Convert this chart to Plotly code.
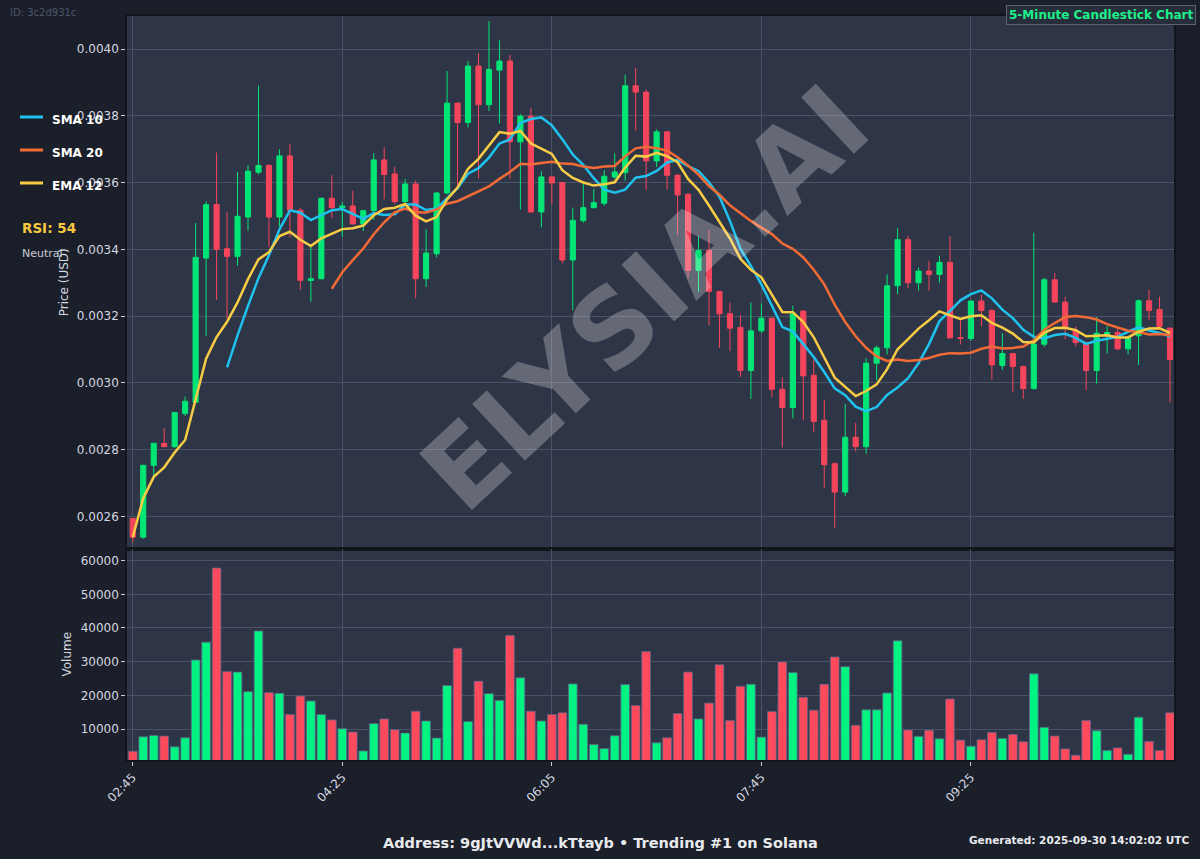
import pandas as pd
import plotly.graph_objects as go
from plotly.subplots import make_subplots

DATE = "2025-09-30"
TIMES = [
    "02:45", "02:50", "02:55", "03:00", "03:05", "03:10", "03:15", "03:20", "03:25", "03:30",
    "03:35", "03:40", "03:45", "03:50", "03:55", "04:00", "04:05", "04:10", "04:15", "04:20",
    "04:25", "04:30", "04:35", "04:40", "04:45", "04:50", "04:55", "05:00", "05:05", "05:10",
    "05:15", "05:20", "05:25", "05:30", "05:35", "05:40", "05:45", "05:50", "05:55", "06:00",
    "06:05", "06:10", "06:15", "06:20", "06:25", "06:30", "06:35", "06:40", "06:45", "06:50",
    "06:55", "07:00", "07:05", "07:10", "07:15", "07:20", "07:25", "07:30", "07:35", "07:40",
    "07:45", "07:50", "07:55", "08:00", "08:05", "08:10", "08:15", "08:20", "08:25", "08:30",
    "08:35", "08:40", "08:45", "08:50", "08:55", "09:00", "09:05", "09:10", "09:15", "09:20",
    "09:25", "09:30", "09:35", "09:40", "09:45", "09:50", "09:55", "10:00", "10:05", "10:10",
    "10:15", "10:20", "10:25", "10:30", "10:35", "10:40", "10:45", "10:50", "10:55", "11:00",
]
OPEN = [
    0.002594, 0.002538, 0.002753, 0.002819, 0.002809, 0.002908, 0.002942, 0.003374, 0.003534, 0.003402,
    0.003379, 0.003497, 0.003631, 0.003651, 0.003497, 0.003680, 0.003517, 0.003307, 0.003312, 0.003553,
    0.003525, 0.003530, 0.003476, 0.003516, 0.003668, 0.003626, 0.003543, 0.003596, 0.003312, 0.003387,
    0.003569, 0.003838, 0.003780, 0.003949, 0.003833, 0.003937, 0.003964, 0.003722, 0.003799, 0.003512,
    0.003617, 0.003600, 0.003368, 0.003486, 0.003525, 0.003538, 0.003617, 0.003630, 0.003890, 0.003871,
    0.003665, 0.003752, 0.003622, 0.003565, 0.003337, 0.003397, 0.003274, 0.003207, 0.003166, 0.003037,
    0.003156, 0.003194, 0.002981, 0.002926, 0.003215, 0.003023, 0.002888, 0.002758, 0.002673, 0.002837,
    0.002809, 0.003059, 0.003105, 0.003291, 0.003429, 0.003300, 0.003335, 0.003325, 0.003361, 0.003136,
    0.003133, 0.003245, 0.003217, 0.003052, 0.003088, 0.003049, 0.002983, 0.003116, 0.003309, 0.003242,
    0.003156, 0.003121, 0.003037, 0.003146, 0.003151, 0.003102, 0.003141, 0.003246, 0.003220, 0.003164,
]
HIGH = [
    0.002594, 0.002755, 0.002819, 0.002865, 0.002911, 0.002959, 0.003479, 0.003544, 0.003690, 0.003511,
    0.003632, 0.003652, 0.003891, 0.003655, 0.003700, 0.003716, 0.003525, 0.003407, 0.003555, 0.003622,
    0.003542, 0.003576, 0.003518, 0.003688, 0.003706, 0.003647, 0.003611, 0.003606, 0.003460, 0.003572,
    0.003934, 0.003840, 0.003964, 0.003988, 0.004084, 0.004026, 0.003982, 0.003805, 0.003824, 0.003634,
    0.003620, 0.003602, 0.003525, 0.003596, 0.003581, 0.003637, 0.003688, 0.003923, 0.003944, 0.003879,
    0.003760, 0.003755, 0.003625, 0.003568, 0.003440, 0.003458, 0.003276, 0.003241, 0.003203, 0.003241,
    0.003238, 0.003196, 0.003016, 0.003231, 0.003218, 0.003070, 0.002949, 0.002762, 0.002937, 0.002880,
    0.003075, 0.003112, 0.003325, 0.003463, 0.003440, 0.003346, 0.003366, 0.003381, 0.003440, 0.003189,
    0.003247, 0.003264, 0.003220, 0.003149, 0.003090, 0.003052, 0.003450, 0.003315, 0.003329, 0.003258,
    0.003169, 0.003123, 0.003197, 0.003170, 0.003163, 0.003140, 0.003250, 0.003279, 0.003258, 0.003166,
]
LOW = [
    0.002522, 0.002533, 0.002712, 0.002808, 0.002805, 0.002901, 0.002940, 0.003141, 0.003248, 0.003192,
    0.003351, 0.003456, 0.003624, 0.003407, 0.003468, 0.003436, 0.003279, 0.003243, 0.003310, 0.003494,
    0.003438, 0.003476, 0.003455, 0.003489, 0.003550, 0.003535, 0.003540, 0.003254, 0.003287, 0.003376,
    0.003565, 0.003591, 0.003765, 0.003613, 0.003814, 0.003777, 0.003611, 0.003519, 0.003510, 0.003466,
    0.003535, 0.003358, 0.003218, 0.003480, 0.003522, 0.003530, 0.003610, 0.003606, 0.003755, 0.003578,
    0.003647, 0.003579, 0.003443, 0.003313, 0.003272, 0.003172, 0.003105, 0.003095, 0.003018, 0.002952,
    0.003150, 0.002957, 0.002807, 0.002894, 0.002888, 0.002853, 0.002686, 0.002566, 0.002661, 0.002795,
    0.002788, 0.003008, 0.003085, 0.003266, 0.003284, 0.003276, 0.003276, 0.003300, 0.003133, 0.003116,
    0.003126, 0.003170, 0.003010, 0.003039, 0.002974, 0.002952, 0.002980, 0.003108, 0.003240, 0.003131,
    0.003110, 0.002978, 0.002998, 0.003088, 0.003098, 0.003085, 0.003054, 0.003189, 0.003166, 0.002942,
]
CLOSE = [
    0.002538, 0.002753, 0.002819, 0.002809, 0.002911, 0.002945, 0.003376, 0.003534, 0.003400, 0.003379,
    0.003499, 0.003634, 0.003651, 0.003497, 0.003680, 0.003517, 0.003307, 0.003312, 0.003553, 0.003525,
    0.003530, 0.003476, 0.003516, 0.003668, 0.003624, 0.003543, 0.003596, 0.003312, 0.003389, 0.003569,
    0.003838, 0.003780, 0.003949, 0.003833, 0.003939, 0.003964, 0.003722, 0.003799, 0.003512, 0.003617,
    0.003599, 0.003368, 0.003487, 0.003525, 0.003540, 0.003619, 0.003632, 0.003890, 0.003871, 0.003665,
    0.003752, 0.003622, 0.003563, 0.003337, 0.003397, 0.003274, 0.003207, 0.003164, 0.003037, 0.003156,
    0.003194, 0.002981, 0.002926, 0.003207, 0.003021, 0.002885, 0.002755, 0.002673, 0.002837, 0.002809,
    0.003059, 0.003105, 0.003291, 0.003429, 0.003300, 0.003335, 0.003325, 0.003361, 0.003135, 0.003133,
    0.003245, 0.003217, 0.003054, 0.003088, 0.003049, 0.002983, 0.003116, 0.003309, 0.003242, 0.003169,
    0.003121, 0.003037, 0.003149, 0.003151, 0.003102, 0.003136, 0.003246, 0.003217, 0.003169, 0.003070,
]
VOLUME = [
    3400, 7700, 8100, 7900, 4700, 7400, 30500, 35800, 57800, 27100,
    26900, 21100, 39100, 20800, 20600, 14300, 19800, 18300, 14300, 12700,
    10100, 9100, 3500, 11600, 13000, 9800, 8800, 15300, 12400, 7300,
    22900, 34000, 12200, 24200, 20500, 18500, 37800, 25200, 15300, 12400,
    14300, 14800, 23400, 11400, 5400, 4200, 8000, 23200, 17000, 33000,
    5900, 7400, 14600, 26900, 13000, 17700, 29100, 12500, 22700, 23300,
    7600, 15200, 29900, 26800, 19400, 15600, 23300, 31400, 28500, 11100,
    15700, 15700, 20700, 36200, 9700, 7800, 9600, 7100, 18900, 6700,
    4900, 6800, 9000, 7200, 8400, 6200, 26400, 10500, 7900, 4100,
    2200, 12500, 9500, 3600, 4400, 2500, 13500, 6300, 3600, 14800,
]
TICK_LABELS = ["02:45", "04:25", "06:05", "07:45", "09:25"]
PRICE_TICKS = [0.0026, 0.0028, 0.0030, 0.0032, 0.0034, 0.0036, 0.0038, 0.0040]
VOLUME_TICKS = [10000, 20000, 30000, 40000, 50000, 60000]
LEGEND_NAMES = ["SMA 10", "SMA 20", "EMA 12"]
RSI_TEXT = "RSI: 54"
RSI_STATE = "Neutral"

# colours
PAPER = "#1b1f2a"
PLOT_BG = "#2e3546"
GRID = "#4a5266"
GREEN = "#00e676"
RED = "#f5455c"
VOL_GREEN = "#00f283"
VOL_RED = "#ff4a5e"
C_SMA10 = "#1fc2ee"
C_SMA20 = "#f26a35"
C_EMA12 = "#f8cc45"
TXT = "#d4d8e0"
FONT = "DejaVu Sans"

x = [f"{DATE} {t}" for t in TIMES]
close_s = pd.Series(CLOSE)
sma10 = close_s.rolling(10).mean()
sma20 = close_s.rolling(20).mean()
ema12 = close_s.ewm(span=12).mean()
vol_colors = [VOL_GREEN if c >= o else VOL_RED for o, c in zip(OPEN, CLOSE)]

# layout geometry (pixels)
W, H = 1200, 859
ML, MR, MT, MB = 127, 26, 16, 99
PW, PH = W - ML - MR, H - MT - MB
VOL_FRAC = 211.5 / PH


def px(xp):
    return (xp - ML) / PW


def py(yp):
    return 1 - (yp - MT) / PH


fig = make_subplots(rows=2, cols=1, shared_xaxes=True, vertical_spacing=0)

fig.add_trace(go.Candlestick(
    x=x, open=OPEN, high=HIGH, low=LOW, close=CLOSE,
    increasing=dict(line=dict(color=GREEN, width=1), fillcolor=GREEN),
    decreasing=dict(line=dict(color=RED, width=1), fillcolor=RED),
    whiskerwidth=0, showlegend=False, hoverinfo="skip",
), row=1, col=1)

for series, name, color in [(sma10, LEGEND_NAMES[0], C_SMA10),
                            (sma20, LEGEND_NAMES[1], C_SMA20),
                            (ema12, LEGEND_NAMES[2], C_EMA12)]:
    fig.add_trace(go.Scatter(x=x, y=series, mode="lines", name=name,
                             line=dict(color=color, width=2.5), showlegend=False,
                             hoverinfo="skip"), row=1, col=1)

fig.add_trace(go.Bar(x=x, y=VOLUME, marker=dict(color=vol_colors,
                                               line=dict(color="#5d6485", width=0.8)),
                     showlegend=False, hoverinfo="skip"), row=2, col=1)

xrange = [f"{DATE} 02:42:15", f"{DATE} 11:01:55"]
tickvals = [f"{DATE} {t}" for t in TICK_LABELS]
axis_common = dict(showline=True, linecolor="#12151c", linewidth=1.5, mirror=True,
                   gridcolor=GRID, gridwidth=1, zeroline=False,
                   tickfont=dict(family=FONT, size=12, color=TXT),
                   ticks="outside", ticklen=4, tickcolor="#c8ccd4")

fig.update_layout(
    width=W, height=H,
    margin=dict(l=ML, r=MR, t=MT, b=MB),
    paper_bgcolor=PAPER, plot_bgcolor=PLOT_BG,
    font=dict(family=FONT, color=TXT),
    bargap=0.17,
    xaxis=dict(domain=[0, 1], range=xrange, tickvals=tickvals, ticktext=TICK_LABELS,
               showticklabels=False, rangeslider=dict(visible=False), **axis_common),
    xaxis2=dict(domain=[0, 1], range=xrange, tickvals=tickvals, ticktext=TICK_LABELS,
                tickangle=-45, **axis_common),
    yaxis=dict(domain=[VOL_FRAC, 1], range=[0.002504, 0.004099], tickvals=PRICE_TICKS,
               tickformat=".4f",
               title=dict(text="Price (USD)", standoff=6,
                          font=dict(family=FONT, size=12, color=TXT)),
               **axis_common),
    yaxis2=dict(domain=[0, VOL_FRAC], range=[800, 63600], tickvals=VOLUME_TICKS,
                tickformat="d",
                title=dict(text="Volume", standoff=6,
                           font=dict(family=FONT, size=12, color=TXT)),
                **axis_common),
)

shapes = []
annotations = []
# manual legend
for i, (name, color) in enumerate(zip(LEGEND_NAMES, [C_SMA10, C_SMA20, C_EMA12])):
    yl = 117 + 33 * i
    shapes.append(dict(type="line", xref="paper", yref="paper",
                       x0=px(20), x1=px(43), y0=py(yl), y1=py(yl),
                       line=dict(color=color, width=3)))
    annotations.append(dict(xref="paper", yref="paper", x=px(50), y=py(yl + 3),
                            xanchor="left", yanchor="middle", showarrow=False,
                            text=f"<b>{name}</b>",
                            font=dict(family=FONT, size=12, color="#ffffff")))
fig.update_layout(shapes=shapes)

annotations += [
    dict(xref="paper", yref="paper", x=px(20), y=py(228), xanchor="left", yanchor="middle",
         showarrow=False, text=f"<b>{RSI_TEXT}</b>",
         font=dict(family=FONT, size=13.5, color="#f7c93e")),
    dict(xref="paper", yref="paper", x=px(20), y=py(254), xanchor="left", yanchor="middle",
         showarrow=False, text=RSI_STATE, font=dict(family=FONT, size=11, color="#c9cdd6")),
    dict(xref="paper", yref="paper", x=px(8), y=py(12), xanchor="left", yanchor="middle",
         showarrow=False, text="ID: 3c2d931c", font=dict(family=FONT, size=10, color="#4d5567")),
    dict(xref="paper", yref="paper", x=px(1196), y=py(15), xanchor="right", yanchor="middle",
         showarrow=False, text="<b>5-Minute Candlestick Chart</b>",
         font=dict(family=FONT, size=12, color="#1ef08a"),
         bgcolor="#262d3b", bordercolor="#5b6272", borderwidth=1, borderpad=2),
    dict(xref="paper", yref="paper", x=px(600), y=py(843), xanchor="center", yanchor="middle",
         showarrow=False, text="<b>Address: 9gJtVVWd...kTtayb • Trending #1 on Solana</b>",
         font=dict(family=FONT, size=14.5, color="#e8eaee")),
    dict(xref="paper", yref="paper", x=px(1192), y=py(840), xanchor="right", yanchor="middle",
         showarrow=False, text="<b>Generated: 2025-09-30 14:02:02 UTC</b>",
         font=dict(family=FONT, size=10.5, color="#e8eaee")),
    dict(xref="paper", yref="paper", x=px(645), y=py(298), xanchor="center", yanchor="middle",
         showarrow=False, text="<b>ELYSIA.AI</b>", textangle=-43,
         font=dict(family=FONT, size=106, color="rgba(255,255,255,0.26)")),
]
fig.update_layout(annotations=annotations)

fig.write_html(
    "out.html",
    config={"displayModeBar": False},
    post_script="document.body.style.margin='0';document.body.style.padding='0';"
                "document.body.style.overflow='hidden';"
                "document.body.style.background='" + PAPER + "';",
)
